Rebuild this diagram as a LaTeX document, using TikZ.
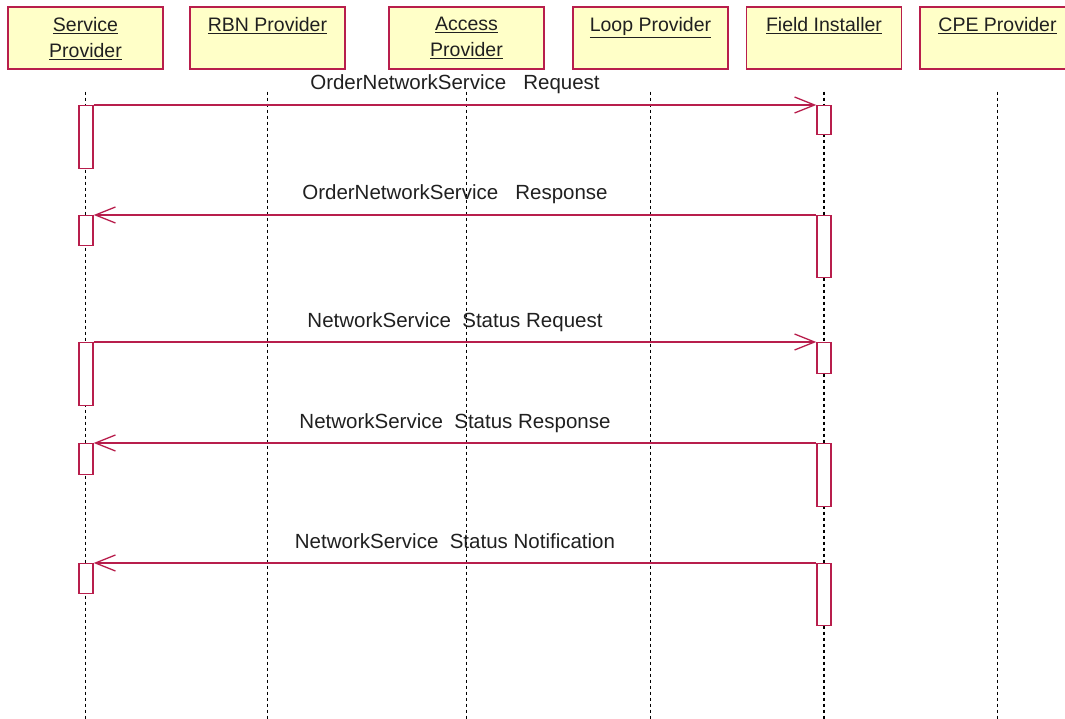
\documentclass[tikz,border=0pt]{standalone}
\usepackage{fontspec}
\setmainfont{Liberation Sans}
\usetikzlibrary{arrows.meta}
\definecolor{umlred}{HTML}{B81E4C}
\definecolor{umlyellow}{HTML}{FFFFC8}
\definecolor{umltext}{HTML}{202020}
\tikzset{
  actor/.style={draw=umlred, line width=1.6pt, fill=umlyellow, minimum width=155pt, minimum height=62pt, inner sep=0pt, anchor=north},
  actortext/.style={anchor=north, align=center, inner sep=0pt, text=umltext},
  lifeline/.style={dash pattern=on 3pt off 3pt, line width=1.4pt},
  activation/.style={draw=umlred, fill=white, line width=1.4pt, minimum width=14pt, inner sep=0pt, anchor=north},
  msg/.style={draw=umlred, line width=1.3pt},
  msgtext/.style={midway, anchor=base, yshift=15pt, inner sep=0pt, text=umltext, font=\fontsize{20.5}{26}\selectfont}
}
\begin{document}
\begin{tikzpicture}[x=1pt, y=-1pt, >={Straight Barb[length=20pt,width=16pt]}, font=\fontsize{19.5}{26}\selectfont]
    \useasboundingbox (0,0) rectangle (1065,719);
    \clip (0,0) rectangle (1065,719);
    % objects
    \node[actor] (sp) at (85.5,6) {};
    \node[actor] (rbn) at (267.5,6) {};
    \node[actor] (ap) at (466.5,6) {};
    \node[actor] (lp) at (650.5,6) {};
    \node[actor] (fi) at (824,6) {};
    \node[actor] (cpe) at (997.5,6) {};
    \node[actortext] (sp-t) at (85.5,17) {\underline{Service}\\\underline{Provider}};
    \node[actortext] (rbn-t) at (267.5,17) {\underline{RBN Provider}};
    \node[actortext] (ap-t) at (466.5,17) {\underline{Access}\\\underline{Provider}};
    \node[actortext] (lp-t) at (650.5,17) {\underline{Loop Provider}};
    \node[actortext] (fi-t) at (824,17) {\underline{Field Installer}};
    \node[actortext] (cpe-t) at (997.5,17) {\underline{CPE Provider}};
    % lifelines
    \draw[lifeline] ([yshift=-22pt]sp.south) -- (sp.south |- 0,719);
    \draw[lifeline] ([yshift=-22pt]rbn.south) -- (rbn.south |- 0,719);
    \draw[lifeline] ([yshift=-22pt]ap.south) -- (ap.south |- 0,719);
    \draw[lifeline] ([yshift=-22pt]lp.south) -- (lp.south |- 0,719);
    \draw[lifeline] ([yshift=-22pt]fi.south) -- (fi.south |- 0,719);
    \draw[lifeline] ([yshift=-22pt]cpe.south) -- (cpe.south |- 0,719);
    % activations
    \node[activation, minimum height=63pt] (sa1) at (86,105) {};
    \node[activation, minimum height=30pt] (sa2) at (86,215) {};
    \node[activation, minimum height=63pt] (sa3) at (86,342) {};
    \node[activation, minimum height=31pt] (sa4) at (86,443) {};
    \node[activation, minimum height=30pt] (sa5) at (86,563) {};
    \node[activation, minimum height=29pt] (fa1) at (824,105) {};
    \node[activation, minimum height=62pt] (fa2) at (824,215) {};
    \node[activation, minimum height=31pt] (fa3) at (824,342) {};
    \node[activation, minimum height=63pt] (fa4) at (824,443) {};
    \node[activation, minimum height=62pt] (fa5) at (824,563) {};
    % messages
    \draw[msg, ->] (sa1.north east) -- (fa1.north west) node[msgtext] (m1) {OrderNetworkService\ \ \ Request};
    \draw[msg, ->] (fa2.north west) -- (sa2.north east) node[msgtext] (m2) {OrderNetworkService\ \ \ Response};
    \draw[msg, ->] (sa3.north east) -- (fa3.north west) node[msgtext] (m3) {NetworkService\ \ Status Request};
    \draw[msg, ->] (fa4.north west) -- (sa4.north east) node[msgtext] (m4) {NetworkService\ \ Status Response};
    \draw[msg, ->] (fa5.north west) -- (sa5.north east) node[msgtext] (m5) {NetworkService\ \ Status Notification};
\end{tikzpicture}
\end{document}
